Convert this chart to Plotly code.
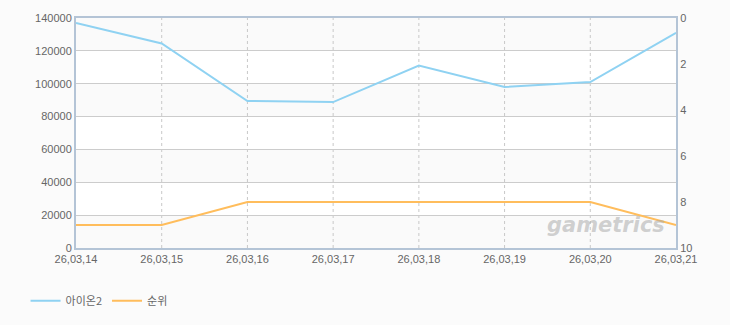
import plotly.graph_objects as go

dates = ["26,03,14", "26,03,15", "26,03,16", "26,03,17", "26,03,18", "26,03,19", "26,03,20", "26,03,21"]
users = [137000, 124500, 89500, 88800, 111000, 98000, 101000, 131000]
rank = [9, 9, 8, 8, 8, 8, 8, 9]
left_ticks = [0, 20000, 40000, 60000, 80000, 100000, 120000, 140000]
right_ticks = [0, 2, 4, 6, 8, 10]

BLUE = "#8fd2f2"
ORANGE = "#ffbd5c"
FRAME = "#b4c4d6"
TICKC = "#666666"
FONT = "Liberation Sans, Arial, sans-serif"

fig = go.Figure()
fig.add_trace(go.Scatter(x=list(range(len(dates))), y=users, name="아이온2", mode="lines",
                         line=dict(color=BLUE, width=2), yaxis="y"))
fig.add_trace(go.Scatter(x=list(range(len(dates))), y=rank, name="순위", mode="lines",
                         line=dict(color=ORANGE, width=2), yaxis="y2"))

shapes = []
for i in range(0, len(left_ticks) - 1):
    if i % 2 == 0:
        shapes.append(dict(type="rect", xref="paper", yref="y", x0=0, x1=1,
                           y0=left_ticks[i], y1=left_ticks[i + 1],
                           fillcolor="#fafafa", line=dict(width=0), layer="below"))
for i in range(1, len(dates) - 1):
    shapes.append(dict(type="line", xref="x", yref="paper", x0=i, x1=i, y0=0, y1=1,
                       line=dict(color="#c8c8c8", width=1, dash="3px,3px"), layer="below"))

fig.update_layout(
    width=730, height=325,
    margin=dict(l=76, r=54, t=16, b=77),
    paper_bgcolor="#fbfbfb", plot_bgcolor="#ffffff",
    font=dict(family=FONT, size=11, color=TICKC),
    shapes=shapes,
    showlegend=True,
    legend=dict(orientation="h", x=0.035, xref="container", y=0.075, yref="container",
                yanchor="middle", xanchor="left",
                font=dict(family="Noto Sans CJK KR, sans-serif", size=11, color=TICKC),
                itemwidth=30, bgcolor="rgba(0,0,0,0)"),
    xaxis=dict(range=[0, len(dates) - 1], tickmode="array", tickvals=list(range(len(dates))),
               ticktext=dates, showgrid=False, zeroline=False, showline=True,
               linecolor=FRAME, linewidth=2, mirror=True, ticks="", tickfont=dict(size=11, color=TICKC)),
    yaxis=dict(range=[0, 140000], tickmode="array", tickvals=left_ticks,
               ticktext=[str(v) for v in left_ticks], showgrid=True, gridcolor="#cccccc",
               gridwidth=1, zeroline=False, showline=True, linecolor=FRAME, linewidth=2,
               ticks="", tickfont=dict(size=11, color=TICKC)),
    yaxis2=dict(range=[10, 0], overlaying="y", side="right", tickmode="array",
                tickvals=right_ticks, ticktext=[str(v) for v in right_ticks],
                showgrid=False, zeroline=False, showline=True, linecolor=FRAME, linewidth=2,
                ticks="", tickfont=dict(size=11, color=TICKC)),
)

fig.add_annotation(text="<i><b>gametrics</b></i>", xref="paper", yref="paper", x=0.985, y=0.04,
                   xanchor="right", yanchor="bottom", showarrow=False,
                   font=dict(family="DejaVu Sans, sans-serif", size=21, color="rgba(170,170,170,0.55)"))

fig.write_html("out.html")
